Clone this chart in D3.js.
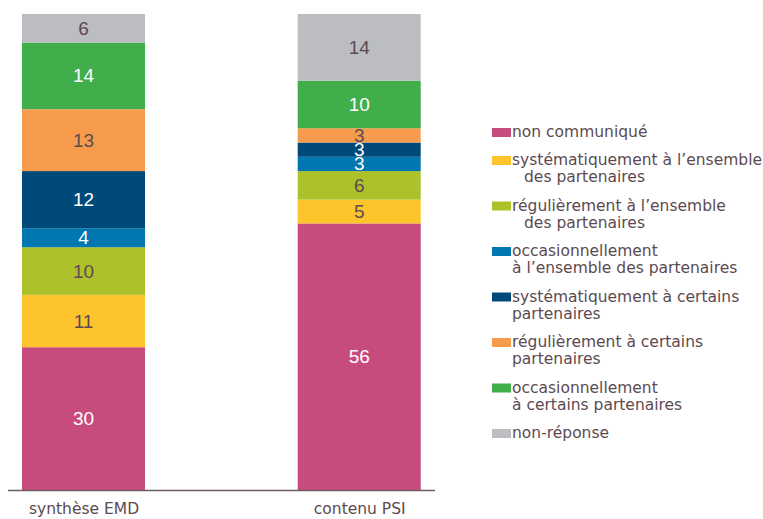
<!DOCTYPE html>
<html><head><meta charset="utf-8">
<script src="https://cdn.jsdelivr.net/npm/d3@7"></script>
<style>body{margin:0;background:#fff}svg{display:block}</style>
</head><body>
<svg id="c" width="763" height="519"></svg>
<script>
const categories = ["synthèse EMD", "contenu PSI"];
const seriesNames = [
  "non communiqué",
  "systématiquement à l’ensemble|des partenaires",
  "régulièrement à l’ensemble|des partenaires",
  "occasionnellement|à l’ensemble des partenaires",
  "systématiquement à certains|partenaires",
  "régulièrement à certains|partenaires",
  "occasionnellement|à certains partenaires",
  "non-réponse"
];
const emdValues = [30, 11, 10, 4, 12, 13, 14, 6];
const psiValues = [56, 5, 6, 3, 3, 3, 10, 14];
const colors = ["#c84b7e", "#fec42b", "#adc12b", "#0077b0", "#004a7a", "#f79c4d", "#41ae4b", "#bcbdc1"];
const labelColors = ["#fff", "#5c4a50", "#5c4a50", "#fff", "#fff", "#5c4a50", "#fff", "#5c4a50"];
const secondLineIndent = [0, 12, 12, 0, 0, 0, 0, 0];

const svg = d3.select("#c");
const y = d3.scaleLinear().domain([0, 100]).range([490, 14]);
const x = d3.scalePoint().domain(categories).range([83.5, 359.2]);
const bw = 123;

const data = [emdValues, psiValues];
categories.forEach((cat, ci) => {
  const vals = data[ci];
  let cum = 0;
  vals.forEach((v, si) => {
    const y0 = cum, y1 = cum + v;
    cum = y1;
    svg.append("rect")
      .attr("x", x(cat) - bw / 2).attr("width", bw)
      .attr("y", y(y1)).attr("height", y(y0) - y(y1))
      .attr("fill", colors[si]);
    svg.append("text")
      .attr("x", x(cat)).attr("y", (y(y0) + y(y1)) / 2)
      .attr("text-anchor", "middle").attr("dominant-baseline", "central")
      .attr("font-family", "Liberation Sans, Arial, sans-serif")
      .attr("font-size", 19)
      .attr("fill", labelColors[si])
      .text(v);
  });
});

// axis
const axisG = svg.append("g").attr("transform", "translate(0,490.5)");
const axis = d3.axisBottom(x).tickSize(0).tickPadding(12);
axisG.call(axis);
axisG.select(".domain").remove();
axisG.append("line").attr("x1", 8).attr("x2", 435).attr("y1", 0).attr("y2", 0)
  .attr("stroke", "#6b5a60").attr("stroke-width", 1.5);
axisG.selectAll(".tick text")
  .attr("font-family", "DejaVu Sans, sans-serif").attr("font-size", 15.5)
  .attr("fill", "#5c4a50");

// legend
const lg = svg.append("g");
let ly = 137;
seriesNames.forEach((name, i) => {
  const lines = name.split("|");
  lg.append("rect").attr("x", 492).attr("y", ly - 9).attr("width", 19).attr("height", 9)
    .attr("fill", colors[i]);
  lines.forEach((ln, k) => {
    lg.append("text")
      .attr("x", 512 + (k > 0 ? secondLineIndent[i] : 0))
      .attr("y", ly + k * 17)
      .attr("font-family", "DejaVu Sans, sans-serif").attr("font-size", 15.5)
      .attr("fill", "#5c4a50")
      .text(ln);
  });
  ly += lines.length === 1 ? 28 : 45.5;
});
</script>
</body></html>
